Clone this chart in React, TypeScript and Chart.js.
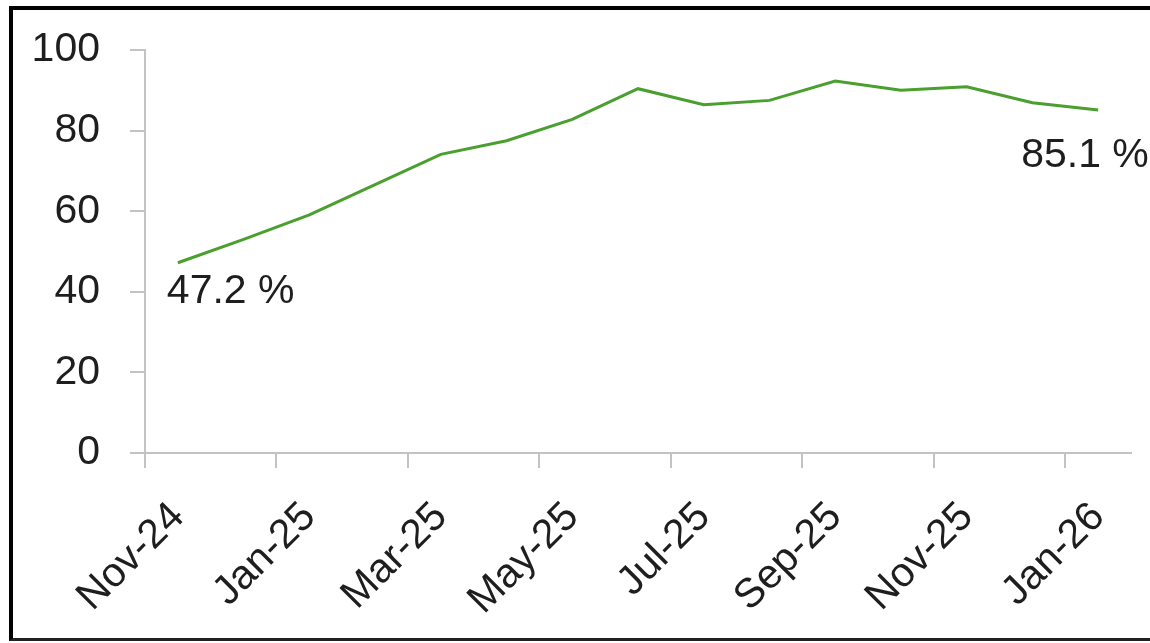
import React, { useEffect, useRef } from "react";
import { Chart, registerables } from "chart.js";

Chart.register(...registerables);

// ---- data ----
const months = [
  "Nov-24", "Dec-24", "Jan-25", "Feb-25", "Mar-25", "Apr-25", "May-25", "Jun-25",
  "Jul-25", "Aug-25", "Sep-25", "Oct-25", "Nov-25", "Dec-25", "Jan-26",
];
const shareValues = [47.2, 53.0, 59.1, 66.6, 74.1, 77.5, 82.8, 90.4, 86.4, 87.5, 92.3, 90.0, 90.9, 86.9, 85.1];
const yTicks = [0, 20, 40, 60, 80, 100];
const labelledIndices = [0, 14];

const FONT = "'Liberation Sans', Arial, Helvetica, sans-serif";
const TEXT = "#1e1e1e";
const AXIS = "#c3c3c3";
const GREEN = "#4a9f2e";

const labelOffsets: Record<number, { dx: number; dy: number }> = {
  0: { dx: -11, dy: 29 },
  14: { dx: -77, dy: 46 },
};

const pointLabels = {
  id: "pointLabels",
  afterDatasetsDraw(chart: any) {
    const meta = chart.getDatasetMeta(0);
    const ctx = chart.ctx;
    ctx.save();
    ctx.font = `41px ${FONT}`;
    ctx.fillStyle = TEXT;
    ctx.textAlign = "left";
    ctx.textBaseline = "middle";
    labelledIndices.forEach((i) => {
      const el = meta.data[i];
      const off = labelOffsets[i];
      ctx.fillText(`${shareValues[i].toFixed(1)} %`, el.x + off.dx, el.y + off.dy);
    });
    ctx.restore();
  },
};

export default function App() {
  const ref = useRef<HTMLCanvasElement | null>(null);
  useEffect(() => {
    document.body.style.margin = "0";
    document.body.style.overflow = "hidden";
    const chart = new Chart(ref.current!, {
      type: "line",
      data: {
        datasets: [
          {
            data: shareValues.map((v, i) => ({ x: i + 0.5, y: v })),
            borderColor: GREEN,
            borderWidth: 3,
            pointRadius: 0,
            tension: 0,
            fill: false,
          },
        ],
      },
      options: {
        animation: false,
        responsive: true,
        maintainAspectRatio: false,
        layout: { padding: { top: 50, right: 19, left: 0, bottom: 0 } },
        plugins: { legend: { display: false }, tooltip: { enabled: false } },
        scales: {
          x: {
            type: "linear",
            min: 0,
            max: months.length,
            afterFit: (s: any) => {
              s.height = 190;
              s.paddingLeft = 0;
              s.paddingRight = 0;
            },
            afterBuildTicks: (s: any) => {
              s.ticks = months.map((_, i) => ({ value: i })).filter((t) => t.value % 2 === 0);
            },
            ticks: {
              callback: (v: any) => months[v as number],
              maxRotation: 45,
              minRotation: 45,
              labelOffset: 33,
              padding: 25,
              color: TEXT,
              font: { family: FONT, size: 41 },
              autoSkip: false,
            },
            grid: { display: true, drawOnChartArea: false, drawTicks: true, tickLength: 15, color: AXIS, lineWidth: 2 },
            border: { display: true, color: AXIS, width: 2 },
          },
          y: {
            min: 0,
            max: 100,
            afterFit: (s: any) => {
              s.width = 145;
              s.paddingTop = 0;
              s.paddingBottom = 0;
            },
            afterBuildTicks: (s: any) => { s.ticks = yTicks.map((v) => ({ value: v })); },
            ticks: {
              color: TEXT,
              padding: 30,
              font: { family: FONT, size: 41 },
            },
            grid: { display: true, drawOnChartArea: false, drawTicks: true, tickLength: 15, color: AXIS, lineWidth: 2 },
            border: { display: true, color: AXIS, width: 2 },
          },
        },
      },
      plugins: [pointLabels],
    });
    return () => chart.destroy();
  }, []);

  return (
    <div style={{ position: "fixed", left: 0, top: 0, width: 1150, height: 643, background: "#fff", overflow: "hidden" }}>
      <canvas ref={ref} />
      <div
        style={{
          position: "absolute",
          left: 9,
          top: 6,
          width: 1200,
          height: 635,
          boxSizing: "border-box",
          borderTop: "4px solid #000",
          borderLeft: "4px solid #000",
          borderBottom: "3px solid #222",
          pointerEvents: "none",
        }}
      />
    </div>
  );
}
